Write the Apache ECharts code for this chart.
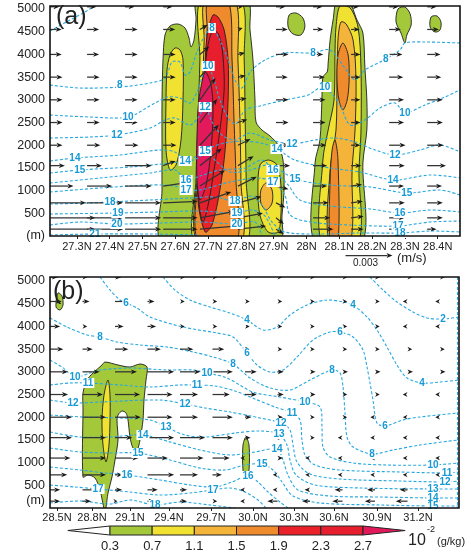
<!DOCTYPE html>
<html><head><meta charset="utf-8">
<script src="https://cdn.jsdelivr.net/npm/echarts@6/dist/echarts.min.js"></script>
<style>html,body{margin:0;padding:0;background:#fff}#c{width:471px;height:553px}</style>
</head><body><div id="c"></div>
<script>
// ---------------- shared scales / ticks ----------------
const levels = [0.3, 0.7, 1.1, 1.5, 1.9, 2.3, 2.7];
const levelColors = ['#a3c83a', '#f1e231', '#f4b43a', '#ef8a2d', '#ea2128', '#e61e2e'];
const overColor = '#e2195b';
const yTicksA = [0, 500, 1000, 1500, 2000, 2500, 3000, 3500, 4000, 4500, 5000];
const yTicksB = [170, 500, 1000, 1500, 2000, 2500, 3000, 3500, 4000, 4500, 5000];
const xTickLatA = [27.3, 27.4, 27.5, 27.6, 27.7, 27.8, 27.9, 28.0, 28.1, 28.2, 28.3, 28.4];
const xLabelsA = ['27.3N','27.4N','27.5N','27.6N','27.7N','27.8N','27.9N','28N','28.1N','28.2N','28.3N','28.4N'];
const xTickDistB = [7, 42, 80, 119, 161, 203, 244, 284, 327, 368];
const xLabelsB = ['28.5N','28.8N','29.1N','29.4N','29.7N','30.0N','30.3N','30.6N','30.9N','31.2N'];
const refVector = 3; // 0.003 m/s, in 1e-3 m/s

// ---------------- panel (a): filled field (latitude, height m) ----------------
const A_greenMain = [[27.5625,-150],[27.5595,1013],[27.5595,1895],[27.5595,2996],[27.5625,3877],[27.5686,4428],[27.5839,4626],[27.6083,4670],[27.6296,4582],[27.6418,4362],[27.6479,4164],[27.6571,4318],[27.6632,4758],[27.6662,5200],[27.8187,5200],[27.8278,4538],[27.8369,3877],[27.8430,2996],[27.8461,2511],[27.8644,2335],[27.8888,2203],[27.9132,2005],[27.9284,1674],[27.9315,1013],[27.9254,463],[27.9163,-150]];
const A_greenRight = [[28.093,5200],[28.081,4758],[28.072,4318],[28.066,3811],[28.063,3613],[28.050,3503],[28.047,2996],[28.041,2115],[28.026,1608],[28.026,-150],[28.169,-150],[28.172,1608],[28.184,2335],[28.184,2996],[28.178,3723],[28.172,4472],[28.154,4758],[28.127,5200]];
const A_blob1 = [[27.947,4869],[27.968,4913],[27.989,4803],[27.995,4604],[27.983,4428],[27.959,4450],[27.944,4604]];
const A_blob2 = [[28.279,5001],[28.300,5045],[28.316,4891],[28.319,4648],[28.306,4428],[28.300,4252],[28.288,4472],[28.273,4714]];
const A_blob3 = [[28.380,4825],[28.398,4847],[28.410,4714],[28.407,4538],[28.392,4494],[28.377,4604]];
const A_yellowLeft = [[27.5839,1454],[27.5717,1895],[27.5717,2996],[27.5747,3657],[27.5839,3987],[27.5991,4142],[27.6144,4098],[27.6235,3877],[27.6235,2996],[27.6174,2115],[27.6022,1564]];
const A_yellowMain = [[27.678,5200],[27.675,3877],[27.669,2555],[27.663,1234],[27.660,-150],[27.816,-150],[27.816,1234],[27.813,2555],[27.810,3877],[27.800,5200]];
const A_yellowRight = [[28.102,5067],[28.090,4604],[28.087,4098],[28.084,2996],[28.066,2335],[28.050,1674],[28.047,-150],[28.157,-150],[28.160,1454],[28.166,2269],[28.166,3723],[28.157,4604],[28.133,5023]];
const A_yellowBump = [[27.858,1564],[27.883,1674],[27.910,1564],[27.922,1124],[27.922,463],[27.913,88],[27.883,88],[27.858,463],[27.852,1013]];
const A_lorangeMain = [[27.691,5200],[27.688,4318],[27.681,2996],[27.672,1674],[27.666,-150],[27.800,-150],[27.800,1234],[27.797,2555],[27.791,3877],[27.782,5200]];
const A_lorangeRight = [[28.105,4714],[28.096,4318],[28.093,3437],[28.090,2335],[28.072,1454],[28.069,-150],[28.133,-150],[28.139,1454],[28.148,2335],[28.151,3437],[28.142,4318],[28.121,4670]];
const A_lorangeBump = [[27.877,1168],[27.895,1013],[27.895,727],[27.877,573],[27.861,727],[27.861,1013]];
const A_orangeMain = [[27.700,5200],[27.697,4538],[27.688,2996],[27.675,1674],[27.669,-150],[27.785,-150],[27.785,1234],[27.779,2555],[27.773,3877],[27.761,5200]];
const A_orangeRight = [[28.111,4252],[28.127,3987],[28.130,3437],[28.124,2996],[28.111,2776],[28.099,2996],[28.093,3437],[28.096,3987]];
const A_orangeRightLow = [[28.087,2115],[28.096,1674],[28.096,-150],[28.072,-150],[28.072,1234],[28.078,1895]];
const A_red1 = [[27.715,4869],[27.697,4428],[27.688,3437],[27.675,2115],[27.669,793],[27.691,88],[27.712,242],[27.736,1013],[27.752,1895],[27.761,2996],[27.761,3877],[27.749,4538],[27.730,4825]];
const A_red2 = [[27.715,4538],[27.697,4098],[27.684,2996],[27.675,1895],[27.672,793],[27.684,308],[27.700,683],[27.718,1454],[27.736,2335],[27.749,3216],[27.745,3987],[27.733,4428]];
const A_pink = [[27.691,3613],[27.672,2996],[27.666,2115],[27.666,1234],[27.675,793],[27.694,1124],[27.709,1895],[27.715,2776],[27.709,3327]];
// [color class index, polygon]
const fillsA = [[0,A_greenMain],[0,A_greenRight],[0,A_blob1],[0,A_blob2],[0,A_blob3],
  [1,A_yellowLeft],[1,A_yellowMain],[1,A_yellowRight],[1,A_yellowBump],
  [2,A_lorangeMain],[2,A_lorangeRight],[2,A_lorangeBump],
  [3,A_orangeMain],[3,A_orangeRight],[3,A_orangeRightLow],
  [4,A_red1],[5,A_red2],[6,A_pink]];

// ---------------- panel (a): dashed contours ----------------
const cA6 = [[27.218,4516],[27.279,4758],[27.325,4935],[27.361,5111]];
const cA8 = [[27.218,3327],[27.309,3260],[27.431,3282],[27.523,3371],[27.569,3481],[27.590,3833],[27.614,3833],[27.630,3547],[27.645,3613],[27.666,4054],[27.691,4428],[27.712,4582],[27.736,4318],[27.761,3877],[27.782,3437],[27.803,3260],[27.828,3613],[27.873,3877],[27.934,4032],[28.020,4032],[28.072,4098],[28.117,3701],[28.148,3437],[28.178,3657],[28.242,3899],[28.285,4098],[28.300,4252],[28.361,4274],[28.468,4252]];
const cA10 = [[27.218,2666],[27.340,2622],[27.456,2622],[27.538,2930],[27.578,3062],[27.614,3040],[27.645,2930],[27.669,3216],[27.684,3547],[27.700,3745],[27.718,3437],[27.736,2996],[27.761,2600],[27.785,2467],[27.813,2776],[27.858,2864],[27.934,2996],[28.005,3106],[28.041,3260],[28.072,3172],[28.102,2886],[28.133,2445],[28.178,2555],[28.224,2820],[28.270,2930],[28.300,2710],[28.361,2886],[28.422,3062],[28.468,3216]];
const cA12 = [[27.218,2159],[27.340,2181],[27.422,2225],[27.523,2379],[27.569,2555],[27.599,2600],[27.645,2445],[27.669,2600],[27.691,2842],[27.712,2511],[27.742,2225],[27.782,2115],[27.828,2269],[27.889,2115],[27.956,2027],[28.026,2115],[28.087,2159],[28.148,2071],[28.209,1895],[28.270,1784],[28.346,1895],[28.407,2005],[28.468,1851]];
const cA14 = [[27.218,1652],[27.294,1718],[27.431,1784],[27.553,1895],[27.599,1851],[27.630,1652],[27.669,1718],[27.706,1939],[27.752,2049],[27.813,2093],[27.873,2027],[27.910,1917],[27.965,1674],[28.072,1498],[28.163,1410],[28.264,1234],[28.377,1344],[28.468,1278]];
const cA15 = [[27.218,1388],[27.309,1454],[27.462,1520],[27.584,1608],[27.645,1674],[27.691,1873],[27.721,1674],[27.767,1410],[27.828,1454],[27.889,1564],[27.965,1256],[28.072,1124],[28.194,1080],[28.306,947],[28.407,1013],[28.468,903]];
const cA16 = [[27.218,1168],[27.370,1278],[27.523,1388],[27.599,1454],[27.633,1234],[27.675,1322],[27.736,1454],[27.813,1498],[27.864,1674],[27.898,1454],[27.944,1124],[27.980,793],[28.072,661],[28.194,595],[28.285,507],[28.377,573],[28.468,529]];
const cA17 = [[27.218,969],[27.370,1057],[27.523,1124],[27.599,1102],[27.633,1013],[27.675,1013],[27.767,1190],[27.852,1278],[27.898,1190],[27.934,903],[27.950,463],[28.011,308],[28.133,242],[28.279,220],[28.377,308],[28.468,330]];
const cA18 = [[27.218,705],[27.340,727],[27.401,749],[27.523,793],[27.645,837],[27.721,859],[27.782,771],[27.834,881],[27.864,683],[27.895,308],[27.934,88],[28.041,44],[28.163,66],[28.285,66],[28.377,110],[28.468,88]];
const cA19 = [[27.218,485],[27.425,507],[27.553,529],[27.675,551],[27.788,507],[27.834,573],[27.873,441],[27.904,0]];
const cA20 = [[27.218,242],[27.309,308],[27.422,264],[27.553,286],[27.675,308],[27.788,264],[27.843,308],[27.864,0]];
const cA21 = [[27.218,22],[27.355,44],[27.523,44],[27.675,22]];
const contoursA = [cA6, cA8, cA10, cA12, cA14, cA15, cA16, cA17, cA18, cA19, cA20, cA21];
const labelsA = [[27.431,3327,'8'],[27.712,4582,'8'],[28.020,4032,'8'],[28.242,3899,'8'],
  [27.456,2622,'10'],[27.700,3745,'10'],[28.056,3282,'10'],[28.300,2710,'10'],
  [27.422,2225,'12'],[27.691,2842,'12'],[27.956,2027,'12'],[28.270,1784,'12'],
  [27.294,1718,'14'],[27.630,1652,'14'],[27.910,1917,'14'],[28.264,1234,'14'],
  [27.309,1454,'15'],[27.691,1873,'15'],[27.965,1256,'15'],[28.306,947,'15'],
  [27.633,1234,'16'],[27.898,1454,'16'],[28.285,507,'16'],
  [27.633,1013,'17'],[27.898,1190,'17'],[28.279,220,'17'],
  [27.401,749,'18'],[27.782,771,'18'],[28.285,66,'18'],
  [27.425,507,'19'],[27.788,507,'19'],[27.422,264,'20'],[27.788,264,'20'],[27.355,30,'21']];

// ---------------- panel (a): vectors (u, w in 1e-3 m/s) ----------------
const vecLatA = [27.218, 27.331, 27.447, 27.563, 27.675, 27.791, 27.907, 28.020, 28.136, 28.252, 28.368];
const vecHgt = [5050, 4550, 4000, 3500, 3000, 2500, 2000, 1550, 1100, 730, 400, 150];
const uA = [
 [0.6,0.6,0.6,0.6,0.4,0.3,0.6,0.6,0.5,0.6,0.6],
 [0.75,0.77,0.8,0.77,0.5,0.3,0.75,0.65,0.55,0.75,0.75],
 [0.75,0.77,0.8,0.8,0.6,0.45,0.8,0.65,0.6,0.85,0.85],
 [0.8,0.8,0.8,0.8,0.8,0.5,0.75,0.75,0.6,0.9,0.9],
 [0.8,0.8,0.8,0.8,1.0,0.55,0.8,0.8,0.6,0.95,1.0],
 [0.8,0.8,0.8,0.8,1.1,0.6,0.8,0.8,0.6,0.95,1.0],
 [0.8,0.85,0.85,0.85,1.2,0.8,0.85,0.85,0.6,1.05,1.05],
 [0.95,0.95,1.7,0.8,1.4,1.0,0.9,0.9,0.65,1.0,1.2],
 [1.5,1.6,1.7,1.4,1.6,1.2,0.8,0.9,0.7,0.95,0.95],
 [2.3,2.3,2.3,2.2,2.0,1.5,0.6,1.0,0.75,1.0,1.0],
 [2.9,2.3,2.3,2.2,2.2,1.6,0.5,1.1,0.8,1.0,1.0],
 [2.9,2.3,2.3,2.2,2.4,1.8,0.5,1.3,0.8,1.0,0.6]];
const wA = [
 [0,0,0,0,0.3,0,0,0,0,0,0],
 [0,0,0,0,0.3,0.1,0,0,0,0,0],
 [0,0,0,0,0.5,0.1,0,0,0,0,0],
 [0,0,0,0,0.9,0.1,0,0,0,0,0],
 [0,0,0,0,1.4,0.1,0,0,0,0,0],
 [0,0,0,0,1.5,0.2,0,0,0,0,0],
 [0,0,0,0,1.3,0.4,0,0,0,0,0],
 [0,0,0,0.3,1.1,0.6,0,0,0,0,0],
 [0,0,0,0.2,1.0,0.6,-0.2,0,0.1,0,0],
 [0,0,0,0.1,0.7,0.4,-0.3,0,0.1,0,0],
 [0,0,0,0,0.4,0.3,-0.4,0,0.1,0,0],
 [0,0,0,0,0.2,0.2,-0.3,0,0,0,0]];

// ---------------- panel (b): filled field (distance along section, height m) ----------------
const B_greenBlob = [[55,3216],[68,3150],[80,3106],[90,3172],[97,3106],[96,2820],[94,2379],[93,1939],[90,1498],[87,1278],[83,1322],[80,1564],[78,1939],[76,2093],[72,2137],[68,2049],[67,1939],[68,1498],[65,1057],[62,683],[58,330],[55,-60],[50,397],[45,661],[38,727],[33,683],[33,2203],[33,2533],[37,2820],[43,2974],[52,3150]];
const B_yellow = [[58,2820],[60,2489],[60,1939],[59,1388],[56,1013],[53,1388],[52,1939],[54,2489]];
const B_greenTop = [[8,4736],[12,4670],[13,4472],[10,4362],[6,4428]];
const B_greenSmall = [[196,1564],[199,1388],[199,837],[196,683],[193,837],[193,1388]];
const fillsB = [[0,B_greenBlob],[1,B_yellow],[0,B_greenTop],[0,B_greenSmall]];

// ---------------- panel (b): dashed contours ----------------
const cB2 = [[320,5089],[333,4803],[347,4538],[363,4318],[377,4186],[393,4164],[409,4208]];
const cB4 = [[113,5089],[125,4803],[140,4582],[160,4428],[180,4296],[197,4142],[213,3921],[227,3987],[240,4252],[257,4472],[277,4582],[293,4538],[303,4472],[317,4208],[327,3921],[337,3547],[347,3150],[357,2864],[372,2754],[390,2776],[409,2820]];
const cB6 = [[50,5089],[60,4803],[70,4582],[76,4516],[87,4406],[100,4208],[133,3987],[167,3855],[183,3767],[197,3415],[207,3150],[220,2996],[233,3040],[247,3327],[263,3701],[280,3877],[290,3877],[303,3767],[313,3481],[317,3106],[320,2754],[323,2379],[327,1873],[335,1806],[353,1939],[370,2005],[408,2093]];
const cB8 = [[0,4186],[17,3987],[37,3811],[50,3767],[67,3657],[90,3591],[117,3547],[143,3437],[163,3327],[183,3172],[200,2864],[220,2644],[240,2600],[260,2820],[282,3040],[290,2974],[293,2666],[295,2093],[297,1564],[303,1344],[322,1190],[343,1278],[370,1388],[408,1498]];
const cB10 = [[0,3260],[12,3106],[25,2886],[40,2974],[50,3040],[80,3084],[117,3040],[143,3040],[157,2974],[177,2864],[203,2555],[230,2445],[255,2335],[270,2225],[272,1784],[273,1344],[280,1124],[303,991],[337,947],[383,947],[408,991]];
const cB11 = [[0,2710],[20,2754],[38,2754],[70,2710],[100,2666],[130,2710],[147,2710],[165,2688],[185,2578],[205,2401],[225,2225],[242,2093],[250,1939],[252,1498],[255,1168],[265,947],[290,837],[350,793],[397,771],[409,793]];
const cB12 = [[0,2379],[23,2313],[50,2335],[110,2379],[135,2291],[155,2203],[180,2115],[210,1983],[231,1873],[240,1718],[243,1388],[247,1013],[260,749],[290,639],[350,595],[395,573],[409,595]];
const cB13 = [[0,2049],[33,2005],[70,1983],[100,1939],[116,1784],[135,1608],[155,1564],[185,1652],[210,1696],[229,1630],[237,1388],[240,1057],[246,727],[265,507],[310,441],[383,419],[409,419]];
const cB14 = [[0,1674],[30,1564],[60,1564],[93,1608],[120,1454],[150,1278],[180,1168],[205,1234],[227,1300],[233,1057],[238,727],[248,397],[280,264],[330,242],[383,220],[409,220]];
const cB15 = [[0,1322],[30,1234],[60,1212],[88,1212],[120,1057],[150,881],[175,837],[195,947],[212,969],[223,837],[232,573],[243,264],[270,110],[330,66],[383,44],[409,44]];
const cB16 = [[0,903],[30,837],[55,771],[77,727],[110,617],[140,507],[165,463],[182,573],[198,705],[208,573],[218,352],[230,132],[238,0]];
const cB17 = [[0,507],[25,463],[48,419],[80,352],[110,286],[140,330],[163,397],[180,441],[195,352],[208,176],[216,0]];
const cB18 = [[0,110],[30,154],[60,88],[80,176],[105,66],[130,132],[160,66],[185,0]];
const cBedge = [[407.5,5089],[407.5,0]];
const contoursB = [cB2, cB4, cB6, cB8, cB10, cB11, cB12, cB13, cB14, cB15, cB16, cB17, cB18, cBedge];
const labelsB = [[76,4516,'6'],[197,4142,'4'],[303,4472,'4'],[393,4164,'2'],[197,3415,'6'],[290,3877,'6'],
  [50,3767,'8'],[183,3172,'8'],[282,3040,'8'],[372,2754,'4'],[335,1806,'6'],[322,1190,'8'],
  [25,2886,'10'],[157,2974,'10'],[255,2335,'10'],[383,947,'10'],
  [38,2754,'11'],[147,2710,'11'],[242,2093,'11'],[397,771,'11'],
  [23,2313,'12'],[135,2291,'12'],[231,1873,'12'],[395,573,'12'],
  [116,1784,'13'],[229,1630,'13'],[383,419,'13'],
  [93,1608,'14'],[227,1300,'14'],[383,220,'14'],
  [88,1212,'15'],[212,969,'15'],[383,44,'15'],
  [77,727,'16'],[198,705,'16'],[48,419,'17'],[163,397,'17'],[105,66,'18']];

// ---------------- panel (b): vectors ----------------
const vecDistB = [0, 32.5, 65, 97.5, 130, 162.5, 195, 227.5, 260, 292.5, 325, 357.5, 390];
const vecHgtB = [5085, 4550, 4000, 3500, 3000, 2500, 2000, 1550, 1100, 730, 400, 150];
const uB = [
 [0.5,0.3,0.4,0.3,0.3,0.3,0.3,0.3,0.3,0.3,0.3,0.3,0.3],
 [0.75,0.45,0.85,0.45,0.3,0.3,0.3,0.3,0.3,0.3,0.3,-0.3,-0.3],
 [0.65,0.3,0.55,0.55,0.3,0.3,0.3,0.3,0.3,0.3,0.3,-0.3,-0.3],
 [0.85,0.65,0.85,0.85,0.85,0.75,0.35,0.3,0.3,0.3,0.3,0.3,0.3],
 [1.15,1.1,1.4,1.7,1.3,1.3,0.75,0.4,0.35,0.35,0.35,0.35,0.35],
 [1.15,1.3,1.6,1.6,1.15,1.1,0.75,0.4,0.35,0.3,0.3,-0.3,-0.3],
 [1.4,1.5,1.65,1.6,1.15,1.3,0.4,0.35,0.3,0.3,-0.3,-0.3,-0.3],
 [1.4,1.5,1.1,1.7,1.6,1.3,0.35,0.35,0.3,-0.3,-0.3,-0.3,-0.3],
 [1.3,1.5,1.5,1.3,1.5,1.1,-0.3,0.35,-0.3,-0.3,-0.3,-0.3,-0.3],
 [1.1,1.5,0.5,1.7,1.15,0.6,0.3,-0.3,-0.3,-0.3,-0.3,-0.3,-0.3],
 [0.65,1.3,0.45,0.65,0.45,0.3,-0.3,-0.3,-0.35,-0.5,-0.5,-0.5,-0.3],
 [0.65,0.55,0.15,0.45,0.45,0.3,-0.3,-0.65,-0.5,-0.65,-0.65,-0.75,-0.55]];

// ---------------- rendering ----------------
const K = 47 / 3;          // pixels per 1e-3 m/s
const CY = '#28a8e0', CYT = '#1699d4', INK = '#222';
const FONT = 'Liberation Sans, Arial, sans-serif';

function fillColor(ci) { return ci < levelColors.length ? levelColors[ci] : overColor; }
function polySeries(gi, fills) {
  return { type: 'custom', xAxisIndex: gi, yAxisIndex: gi, clip: true, silent: true, z: 2,
    data: fills.map(f => f[1][0]),
    renderItem: (p, api) => {
      const f = fills[p.dataIndex];
      return { type: 'polygon', shape: { points: f[1].map(q => api.coord(q)), smooth: 0.3 },
        style: { fill: fillColor(f[0]), stroke: '#1e1e1e', lineWidth: 0.9 } };
    } };
}
function lineSeries(gi, lines) {
  return { type: 'custom', xAxisIndex: gi, yAxisIndex: gi, clip: true, silent: true, z: 3,
    data: lines.map(l => l[0]),
    renderItem: (p, api) => ({ type: 'polyline',
      shape: { points: lines[p.dataIndex].map(q => api.coord(q)), smooth: 0.3 },
      style: { stroke: CY, lineWidth: 1.1, lineDash: [3, 2], fill: null } }) };
}
function labelSeries(gi, labs) {
  return { type: 'custom', xAxisIndex: gi, yAxisIndex: gi, clip: false, silent: true, z: 6,
    data: labs.map(l => [l[0], l[1]]),
    renderItem: (p, api) => {
      const l = labs[p.dataIndex]; const c = api.coord([l[0], l[1]]);
      return { type: 'text', x: c[0], y: c[1], z2: 10,
        style: { text: l[2], fill: CYT, font: 'bold 10px ' + FONT, align: 'center', verticalAlign: 'middle',
          backgroundColor: '#fff', padding: [0, 1] } };
    } };
}
function arrowEls(s, dx, dy) {
  const len = Math.hypot(dx, dy);
  if (len < 0.5) return [];
  const ux = dx / len, uy = dy / len;
  const hl = Math.min(6, Math.max(len, 4)), hw = 2.4;
  const tip = [s[0] + dx, s[1] + dy];
  const base = [tip[0] - ux * hl, tip[1] - uy * hl];
  const els = [];
  if (len > hl) els.push({ type: 'line', shape: { x1: s[0], y1: s[1], x2: base[0] + ux, y2: base[1] + uy },
    style: { stroke: '#333', lineWidth: 1.25 } });
  els.push({ type: 'polygon', shape: { points: [tip, [base[0] - uy * hw, base[1] + ux * hw], [base[0] + ux * 1.5, base[1] + uy * 1.5], [base[0] + uy * hw, base[1] - ux * hw]] },
    style: { fill: '#1a1a1a' } });
  return els;
}
function vecSeries(gi, xs, hs, U, W) {
  const items = [];
  hs.forEach((h, r) => xs.forEach((x, c) => items.push([x, h, U[r][c], W ? W[r][c] : 0])));
  return { type: 'custom', xAxisIndex: gi, yAxisIndex: gi, clip: true, silent: true, z: 5,
    data: items,
    renderItem: (p, api) => {
      const s = api.coord([api.value(0), api.value(1)]);
      return { type: 'group', children: arrowEls(s, api.value(2) * K, -api.value(3) * K) };
    } };
}
function lookup(ticks, labels) {
  return v => { const i = ticks.findIndex(t => Math.abs(t - v) < 1e-6); return i >= 0 ? labels[i] : ''; };
}
const yLab = v => (v < 400 ? '(m)' : String(v));

const colorbarSeries = { type: 'custom', xAxisIndex: 2, yAxisIndex: 2, clip: false, silent: true, z: 3,
  data: [-1, 0, 1, 2, 3, 4, 5, 6].map(i => [i, 0]),
  renderItem: (p, api) => {
    const i = api.value(0);
    if (i < 0) {
      const a = api.coord([0, 0]), b = api.coord([0, 1]), t = api.coord([-1, 0.5]);
      return { type: 'polygon', shape: { points: [b, t, a] }, style: { fill: '#fff', stroke: INK, lineWidth: 1 } };
    }
    if (i >= levelColors.length) {
      const a = api.coord([i, 0]), b = api.coord([i, 1]), t = api.coord([i + 1, 0.5]);
      return { type: 'polygon', shape: { points: [b, t, a] }, style: { fill: overColor, stroke: INK, lineWidth: 1 } };
    }
    const a = api.coord([i, 1]), b = api.coord([i + 1, 0]);
    return { type: 'rect', shape: { x: a[0], y: a[1], width: b[0] - a[0], height: b[1] - a[1] },
      style: { fill: levelColors[i], stroke: INK, lineWidth: 1 } };
  } };

const gridStyle = { show: true, z: 10, borderColor: '#111', borderWidth: 1.6, backgroundColor: 'transparent' };
const refLen = refVector * K;

const option = {
  animation: false,
  textStyle: { fontFamily: FONT },
  grid: [
    Object.assign({ left: 50, top: 6, width: 410, height: 230 }, gridStyle),
    Object.assign({ left: 50, top: 277, width: 409, height: 231 }, gridStyle),
    { left: 110, top: 526, width: 253, height: 10, show: false }
  ],
  xAxis: [
    { gridIndex: 0, type: 'value', min: 27.218, max: 28.468, splitLine: { show: false }, axisLine: { show: false },
      axisTick: { show: true, customValues: xTickLatA, length: 3, lineStyle: { color: INK } },
      axisLabel: { customValues: xTickLatA, formatter: lookup(xTickLatA, xLabelsA), fontSize: 11, color: INK, margin: 5 } },
    { gridIndex: 1, type: 'value', min: 0, max: 409, splitLine: { show: false }, axisLine: { show: false },
      axisTick: { show: true, customValues: xTickDistB, length: 3, lineStyle: { color: INK } },
      axisLabel: { customValues: xTickDistB, formatter: lookup(xTickDistB, xLabelsB), fontSize: 11, color: INK, margin: 4 } },
    { gridIndex: 2, type: 'value', min: 0, max: 6, interval: 1, splitLine: { show: false }, axisLine: { show: false }, axisTick: { show: false },
      axisLabel: { formatter: v => String(levels[v]), fontSize: 13, color: INK, margin: 5 } }
  ],
  yAxis: [
    { gridIndex: 0, type: 'value', min: 0, max: 5067, splitLine: { show: false }, axisLine: { show: false }, axisTick: { show: false },
      axisLabel: { customValues: yTicksA, formatter: yLab, fontSize: 12.5, color: INK, margin: 5 } },
    { gridIndex: 1, type: 'value', min: 0, max: 5089, splitLine: { show: false }, axisLine: { show: false }, axisTick: { show: false },
      axisLabel: { customValues: yTicksB, formatter: yLab, fontSize: 12.5, color: INK, margin: 5 } },
    { gridIndex: 2, type: 'value', min: 0, max: 1, show: false }
  ],
  series: [
    polySeries(0, fillsA), lineSeries(0, contoursA), vecSeries(0, vecLatA, vecHgt, uA, wA), labelSeries(0, labelsA),
    polySeries(1, fillsB), lineSeries(1, contoursB), vecSeries(1, vecDistB, vecHgtB, uB, null), labelSeries(1, labelsB),
    colorbarSeries
  ],
  graphic: [
    { type: 'text', left: 56, top: 5, z: 20, style: { text: '(a)', font: '25px ' + FONT, fill: INK } },
    { type: 'text', left: 53, top: 280, z: 20, style: { text: '(b)', font: '25px ' + FONT, fill: INK } },
    { type: 'group', left: 343, top: 253, children: arrowEls([0, 3], refLen, 0) },
    { type: 'text', left: 353, top: 258, style: { text: '0.003', font: '10px ' + FONT, fill: INK } },
    { type: 'text', left: 397, top: 252, style: { text: '(m/s)', font: '13px ' + FONT, fill: INK } },
    { type: 'text', left: 408, top: 533, style: { text: '10', font: '16px ' + FONT, fill: INK } },
    { type: 'text', left: 427, top: 525, style: { text: '-2', font: '9px ' + FONT, fill: INK } },
    { type: 'text', left: 437, top: 536, style: { text: '(g/kg)', font: '11px ' + FONT, fill: INK } }
  ]
};
const chart = echarts.init(document.getElementById('c'), null, { renderer: 'canvas' });
chart.setOption(option);
</script></body></html>
